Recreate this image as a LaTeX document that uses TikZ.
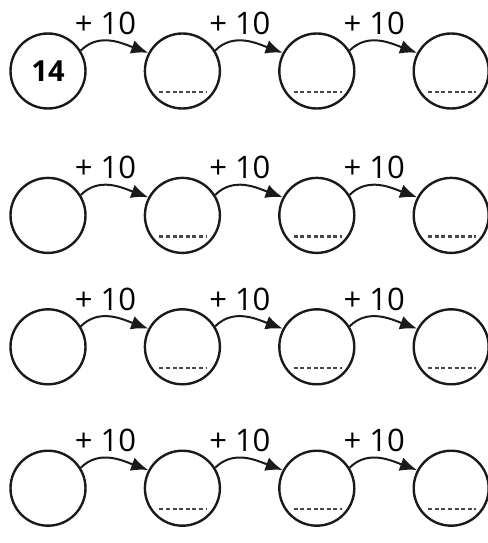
\documentclass[tikz,border=0pt]{standalone}
\usepackage{fontspec}
\setsansfont{Open Sans}
\usetikzlibrary{arrows.meta,positioning}
\definecolor{SheetInk}{HTML}{1A1A1A}
\tikzset{
  hop/.style={-{Latex[length=17pt,width=14pt]},line width=2pt,draw=SheetInk},
  numcircle/.style={circle,draw=SheetInk,line width=2.4pt,minimum size=75pt,
    inner sep=0pt,font=\sffamily\bfseries\fontsize{29}{29}\selectfont},
  answercircle/.style={numcircle,path picture={
    \draw[SheetInk!80,line width=2.4pt,dash pattern=on 4pt off 2.6pt]
      ([xshift=-23pt,yshift=-21pt]path picture bounding box.center) -- ++(48pt,0);}},
  hoplabel/.style={font=\sffamily\fontsize{31}{31}\selectfont,anchor=south,
    yshift=4pt,inner sep=1pt}
}
\begin{document}
\begin{tikzpicture}[x=1pt,y=1pt,node distance=57pt]
      \useasboundingbox (0,0) rectangle (487,-543);

      % row 1
      \node[numcircle] (c11) at (48,-71) {14};
      \node[answercircle,right=of c11] (c12) {};
      \node[answercircle,right=of c12] (c13) {};
      \node[answercircle,right=of c13] (c14) {};
      \draw[hop] (c11.32) to[out=45,in=160] node[hoplabel,pos=0.4] (p11) {+ 10} (c12.152);
      \draw[hop] (c12.32) to[out=45,in=160] node[hoplabel,pos=0.4] (p12) {+ 10} (c13.152);
      \draw[hop] (c13.32) to[out=45,in=160] node[hoplabel,pos=0.4] (p13) {+ 10} (c14.152);

      % row 2
      \node[numcircle,below=67pt of c11] (c21) {};
      \node[answercircle,right=of c21] (c22) {};
      \node[answercircle,right=of c22] (c23) {};
      \node[answercircle,right=of c23] (c24) {};
      \draw[hop] (c21.32) to[out=45,in=160] node[hoplabel,pos=0.4] (p21) {+ 10} (c22.152);
      \draw[hop] (c22.32) to[out=45,in=160] node[hoplabel,pos=0.4] (p22) {+ 10} (c23.152);
      \draw[hop] (c23.32) to[out=45,in=160] node[hoplabel,pos=0.4] (p23) {+ 10} (c24.152);

      % row 3
      \node[numcircle,below=54pt of c21] (c31) {};
      \node[answercircle,right=of c31] (c32) {};
      \node[answercircle,right=of c32] (c33) {};
      \node[answercircle,right=of c33] (c34) {};
      \draw[hop] (c31.32) to[out=45,in=160] node[hoplabel,pos=0.4] (p31) {+ 10} (c32.152);
      \draw[hop] (c32.32) to[out=45,in=160] node[hoplabel,pos=0.4] (p32) {+ 10} (c33.152);
      \draw[hop] (c33.32) to[out=45,in=160] node[hoplabel,pos=0.4] (p33) {+ 10} (c34.152);

      % row 4
      \node[numcircle,below=64pt of c31] (c41) {};
      \node[answercircle,right=of c41] (c42) {};
      \node[answercircle,right=of c42] (c43) {};
      \node[answercircle,right=of c43] (c44) {};
      \draw[hop] (c41.32) to[out=45,in=160] node[hoplabel,pos=0.4] (p41) {+ 10} (c42.152);
      \draw[hop] (c42.32) to[out=45,in=160] node[hoplabel,pos=0.4] (p42) {+ 10} (c43.152);
      \draw[hop] (c43.32) to[out=45,in=160] node[hoplabel,pos=0.4] (p43) {+ 10} (c44.152);
    \end{tikzpicture}
\end{document}
